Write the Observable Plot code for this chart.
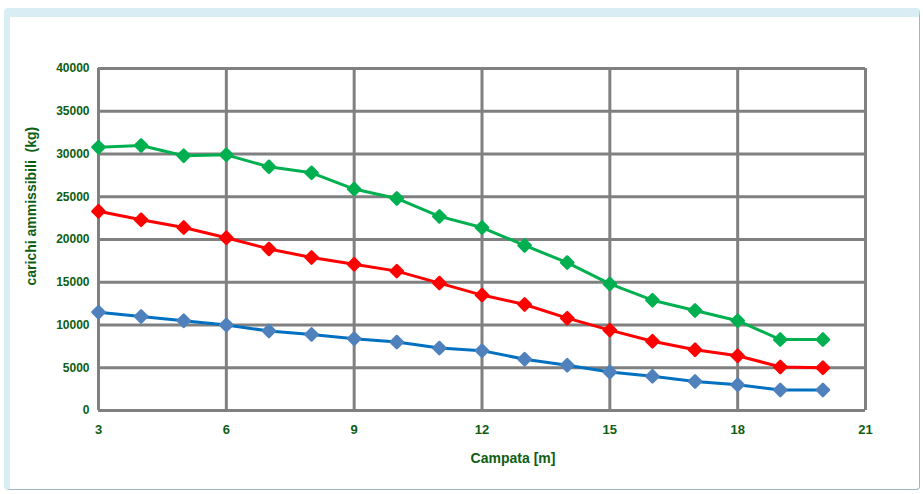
<!DOCTYPE html>
<html>
<head>
<meta charset="utf-8">
<script src="https://cdn.jsdelivr.net/npm/d3@7"></script>
<script src="https://cdn.jsdelivr.net/npm/@observablehq/plot@0.6"></script>
<style>
  html, body { margin: 0; padding: 0; background: #fff; }
  #wrap { position: relative; width: 923px; height: 494px; overflow: hidden; }
  #frame { position: absolute; left: 4px; top: 8px; width: 916px; height: 482px;
           border: 1px solid #9fb4c0; border-top: 9px solid #d8eef4; border-left: 6px solid #d8eef4; border-radius: 4px; box-sizing: border-box; }
  #chart { position: absolute; left: 0; top: 0; }
</style>
</head>
<body>
<div id="wrap"><div id="frame"></div><div id="chart"></div></div>
<script>
const spans = [3,4,5,6,7,8,9,10,11,12,13,14,15,16,17,18,19,20];
const green = [30800,31000,29800,29900,28500,27800,25900,24800,22700,21400,19300,17300,14800,12900,11700,10500,8300,8300];
const red   = [23300,22300,21400,20200,18900,17900,17100,16300,14900,13500,12400,10800,9400,8100,7100,6400,5100,5000];
const blue  = [11500,11000,10500,10000,9300,8900,8400,8000,7300,7000,6000,5300,4500,4000,3400,3000,2400,2400];
const seriesNames = ["A","B","C"];
const xTicks = [3,6,9,12,15,18,21];
const yTicks = [0,5000,10000,15000,20000,25000,30000,35000,40000];
const xLabel = "Campata [m]";
const yLabel = "carichi ammissibili  (kg)";

const table = [];
[green, red, blue].forEach((vals, si) => vals.forEach((v, i) => table.push({s: seriesNames[si], x: spans[i], y: v})));
const lineColors = {A: "#00b050", B: "#ff0000", C: "#0070c0"};
const dotColors = {A: "#00b050", B: "#ff0000", C: "#4f81bd"};
const txt = "#0d5e12";

const chart = Plot.plot({
  width: 923, height: 494,
  marginLeft: 98, marginRight: 58, marginTop: 68, marginBottom: 84,
  style: {fontFamily: "Liberation Sans, Arial, sans-serif", background: "transparent"},
  x: {domain: [3, 21], ticks: xTicks},
  y: {domain: [0, 40000], ticks: yTicks},
  marks: [
    Plot.gridX(xTicks, {stroke: "#808080", strokeOpacity: 1, strokeWidth: 3}),
    Plot.gridY(yTicks, {stroke: "#808080", strokeOpacity: 1, strokeWidth: 3}),
    Plot.axisX({ticks: xTicks, tickSize: 0, tickPadding: 14, fill: txt, fontWeight: "bold", fontSize: 13, label: null}),
    Plot.axisY({ticks: yTicks, tickSize: 0, tickPadding: 9, fill: txt, fontWeight: "bold", fontSize: 12, label: null, tickFormat: d => String(d)}),
    Plot.text([xLabel], {frameAnchor: "bottom", dx: 31, dy: 52, fill: txt, fontWeight: "bold", fontSize: 14, letterSpacing: 0.5}),
    Plot.text([yLabel], {frameAnchor: "left", dx: -67, dy: 46, rotate: -90, fill: txt, fontWeight: "bold", fontSize: 14, letterSpacing: 1.5}),
    Plot.line(table, {x: "x", y: "y", z: "s", stroke: d => lineColors[d.s], strokeWidth: 3}),
    Plot.dot(table, {x: "x", y: "y", fill: d => dotColors[d.s], symbol: "diamond2", r: 5.5, stroke: d => dotColors[d.s], strokeWidth: 2.5, strokeLinejoin: "round"})
  ]
});
document.getElementById("chart").appendChild(chart);
</script>
</body>
</html>
